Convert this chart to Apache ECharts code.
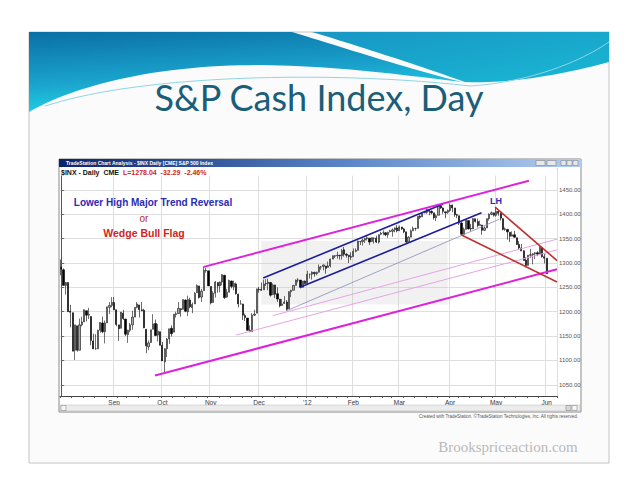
<!DOCTYPE html>
<html>
<head>
<meta charset="utf-8">
<script src="https://cdn.jsdelivr.net/npm/echarts@6/dist/echarts.min.js"></script>
<style>
  html, body { margin: 0; padding: 0; background: #fff; }
  #main { width: 638px; height: 493px; }
</style>
</head>
<body>
<div id="main"></div>
<script>
// S&P 500 cash index ($INX), daily bars, Aug 2011 - Jun 2012
// each row: [day, open, close, low, high]
const aug11 = [[1,1292,1287,1275,1307],[2,1286,1254,1254,1289],[3,1254,1260,1235,1261],[4,1260,1200,1200,1260],[5,1201,1199,1168,1214],
  [8,1198,1119,1119,1198],[9,1121,1173,1101,1173],[10,1171,1121,1118,1171],[11,1121,1173,1121,1186],[12,1173,1179,1170,1190],
  [15,1179,1204,1179,1205],[16,1202,1193,1180,1202],[17,1193,1194,1185,1208],[18,1190,1141,1131,1191],[19,1140,1124,1123,1155],
  [22,1124,1124,1122,1154],[23,1124,1162,1124,1163],[24,1162,1178,1157,1178],[25,1177,1159,1156,1190],[26,1159,1177,1135,1182],
  [29,1177,1210,1177,1210],[30,1209,1213,1195,1220],[31,1213,1219,1209,1230]];
const sep11 = [[1,1219,1204,1204,1230],[2,1204,1174,1170,1204],[6,1173,1165,1140,1173],[7,1166,1199,1166,1198],[8,1197,1186,1183,1204],
  [9,1185,1154,1150,1185],[12,1153,1162,1136,1163],[13,1162,1173,1158,1177],[14,1173,1189,1163,1202],[15,1189,1209,1189,1209],
  [16,1209,1216,1207,1220],[19,1214,1204,1188,1214],[20,1204,1202,1201,1220],[21,1203,1167,1166,1206],[22,1164,1130,1115,1164],
  [23,1128,1136,1121,1141],[26,1137,1163,1136,1163],[27,1164,1175,1164,1195],[28,1176,1151,1150,1184],[29,1152,1160,1139,1175],
  [30,1159,1131,1131,1159]];
const oct11 = [[3,1131,1099,1099,1138],[4,1097,1124,1075,1125],[5,1124,1144,1107,1146],[6,1144,1165,1134,1165],[7,1166,1155,1149,1172],
  [10,1158,1195,1158,1195],[11,1194,1196,1188,1200],[12,1196,1207,1196,1220],[13,1206,1204,1190,1207],[14,1205,1225,1205,1225],
  [17,1224,1201,1199,1225],[18,1200,1225,1191,1233],[19,1224,1210,1207,1229],[20,1208,1215,1197,1219],[21,1216,1238,1216,1240],
  [24,1239,1254,1239,1256],[25,1253,1229,1227,1253],[26,1230,1242,1220,1247],[27,1243,1285,1243,1293],[28,1284,1285,1280,1290],
  [31,1284,1253,1253,1284]];
const nov11 = [[1,1252,1218,1215,1252],[2,1219,1238,1219,1242],[3,1238,1261,1229,1263],[4,1260,1253,1239,1260],[7,1253,1261,1240,1262],
  [8,1261,1276,1254,1277],[9,1275,1229,1226,1275],[10,1230,1240,1229,1247],[11,1240,1264,1240,1266],[14,1263,1252,1248,1264],
  [15,1251,1258,1244,1264],[16,1257,1237,1235,1260],[17,1236,1216,1209,1237],[18,1216,1216,1215,1224],[21,1216,1193,1183,1216],
  [22,1192,1188,1181,1196],[23,1187,1162,1161,1187],[25,1162,1159,1158,1172],[28,1159,1193,1159,1197],[29,1193,1195,1191,1204],
  [30,1197,1247,1197,1247]];
const dec11 = [[1,1246,1245,1239,1251],[2,1246,1244,1243,1260],[5,1245,1257,1245,1266],[6,1257,1258,1253,1267],[7,1258,1261,1244,1268],
  [8,1260,1234,1231,1261],[9,1235,1255,1235,1258],[12,1255,1236,1228,1255],[13,1237,1226,1220,1250],[14,1226,1212,1209,1226],
  [15,1213,1216,1212,1226],[16,1217,1220,1216,1232],[19,1220,1205,1202,1224],[20,1206,1241,1206,1242],[21,1241,1244,1230,1245],
  [22,1244,1254,1244,1255],[23,1254,1265,1254,1266],[27,1265,1265,1260,1269],[28,1265,1250,1248,1265],[29,1250,1263,1250,1263],
  [30,1263,1258,1257,1264]];
const jan12 = [[3,1258,1277,1258,1284],[4,1277,1277,1268,1278],[5,1277,1281,1266,1283],[6,1281,1278,1272,1282],[9,1278,1281,1275,1282],
  [10,1281,1292,1281,1297],[11,1292,1292,1286,1294],[12,1293,1296,1285,1297],[13,1294,1289,1278,1294],[17,1291,1294,1291,1303],
  [18,1294,1308,1291,1309],[19,1308,1315,1308,1315],[20,1314,1315,1310,1316],[23,1315,1316,1309,1323],[24,1316,1315,1307,1316],
  [25,1315,1326,1307,1329],[26,1327,1318,1313,1333],[27,1318,1316,1311,1320],[30,1316,1313,1300,1316],[31,1313,1312,1306,1322]];
const feb12 = [[1,1313,1324,1313,1330],[2,1324,1326,1322,1330],[3,1326,1345,1326,1346],[6,1344,1344,1337,1345],[7,1344,1347,1336,1350],
  [8,1347,1350,1341,1352],[9,1350,1352,1346,1357],[10,1351,1343,1337,1351],[13,1344,1352,1344,1353],[14,1351,1351,1340,1352],
  [15,1351,1343,1341,1356],[16,1343,1358,1340,1359],[17,1359,1361,1357,1364],[21,1362,1362,1357,1367],[22,1362,1358,1355,1363],
  [23,1358,1363,1352,1364],[24,1364,1366,1363,1368],[27,1365,1368,1354,1371],[28,1368,1372,1363,1373],[29,1372,1366,1363,1378]];
const mar12 = [[1,1366,1374,1366,1377],[2,1374,1370,1368,1374],[5,1370,1364,1361,1372],[6,1364,1343,1341,1364],[7,1343,1353,1343,1355],
  [8,1353,1366,1353,1369],[9,1366,1371,1366,1375],[12,1371,1371,1366,1372],[13,1371,1396,1371,1396],[14,1396,1394,1390,1400],
  [15,1395,1403,1394,1403],[16,1403,1404,1402,1406],[19,1404,1410,1401,1411],[20,1409,1406,1398,1409],[21,1406,1403,1400,1408],
  [22,1403,1393,1389,1403],[23,1393,1397,1386,1400],[26,1398,1417,1398,1417],[27,1417,1413,1411,1420],[28,1413,1406,1401,1414],
  [29,1405,1403,1392,1405],[30,1404,1408,1401,1410]];
const apr12 = [[2,1408,1419,1405,1422],[3,1419,1413,1404,1420],[4,1413,1399,1395,1413],[5,1399,1398,1392,1401],[9,1397,1382,1378,1397],
  [10,1382,1359,1358,1384],[11,1359,1369,1359,1373],[12,1369,1388,1369,1388],[13,1387,1370,1369,1387],[16,1371,1370,1365,1380],
  [17,1370,1391,1370,1392],[18,1391,1385,1383,1391],[19,1385,1377,1373,1391],[20,1377,1379,1377,1387],[23,1378,1367,1358,1378],
  [24,1367,1372,1366,1375],[25,1372,1391,1372,1391],[26,1391,1400,1387,1402],[27,1400,1403,1398,1406],[30,1403,1398,1395,1403]];
const may12 = [[1,1398,1406,1395,1415],[2,1406,1402,1397,1406],[3,1402,1392,1387,1404],[4,1391,1369,1367,1392],[7,1369,1370,1366,1373],
  [8,1369,1364,1348,1370],[9,1363,1355,1343,1363],[10,1355,1358,1355,1365],[11,1358,1353,1352,1366],[14,1352,1338,1337,1352],
  [15,1338,1331,1327,1345],[16,1331,1325,1324,1339],[17,1325,1305,1305,1326],[18,1306,1295,1291,1312],[21,1295,1316,1295,1316],
  [22,1316,1317,1310,1329],[23,1317,1319,1297,1320],[24,1319,1321,1308,1322],[25,1321,1318,1314,1324],[29,1318,1332,1318,1335],
  [30,1332,1313,1311,1332],[31,1313,1310,1299,1319]];
const jun12 = [[1,1310,1278,1278,1310]];
const blankDays = [4, 5, 6, 7]; // empty June slots to the right of the last bar

const monthLabels = ['', 'Sep', 'Oct', 'Nov', 'Dec', "'12", 'Feb', 'Mar', 'Apr', 'May', 'Jun'];
const monthRows = [aug11, sep11, oct11, nov11, dec11, jan12, feb12, mar12, apr12, may12, jun12];
const monthKeys = [[2011,8],[2011,9],[2011,10],[2011,11],[2011,12],[2012,1],[2012,2],[2012,3],[2012,4],[2012,5],[2012,6]];

const lastPrice = 1278.04;
const yTicks = [1050, 1100, 1150, 1200, 1250, 1300, 1350, 1400, 1450];

// drawn studies, in [bar index, price]
const magentaTop = [[62, 1292], [203.3, 1469]];
const magentaBottom = [[40.8, 1069], [215.5, 1287]];
const pinkLow1 = [[76, 1152], [215.5, 1327]];
const pinkLow2 = [[92, 1192], [215.5, 1349]];
const slateLine = [[98, 1202], [190.5, 1390]];
const blueTop = [[87.8, 1269], [166, 1421]];
const blueBottom = [[103.8, 1250], [182.7, 1403]];
const redTop = [[188.6, 1414.5], [215.5, 1305]];
const redBottom = [[174, 1357.6], [215.5, 1261]];
const shadeBox = [[87, 1345], [168, 1215]];

// build categories
let cats = [], ohlc = [], monthStart = {}, weekStart = {};
let prevDow = 9;
monthRows.forEach(function (rows, mi) {
  rows.forEach(function (r, k) {
    const idx = cats.length;
    if (k === 0) monthStart[idx] = monthLabels[mi];
    const dow = new Date(monthKeys[mi][0], monthKeys[mi][1] - 1, r[0]).getDay();
    if (dow < prevDow) weekStart[idx] = true;
    prevDow = dow;
    cats.push(monthKeys[mi][0] + '-' + monthKeys[mi][1] + '-' + r[0]);
    ohlc.push([r[1], r[2], r[3], r[4]]);
  });
});
blankDays.forEach(function (d) {
  cats.push('2012-6-' + d);
  ohlc.push('-');
});
const nCats = cats.length;

function study(name, pts, color, width) {
  return {
    name: name, type: 'line', xAxisIndex: 1, yAxisIndex: 0,
    data: pts, symbol: 'none', silent: true, z: 4,
    lineStyle: { color: color, width: width }
  };
}

// sample a cubic bezier into polygon points (slide decoration)
function bez(p0, p1, p2, p3) {
  let out = [];
  for (let i = 0; i <= 24; i++) {
    const t = i / 24, u = 1 - t;
    out.push([
      u*u*u*p0[0] + 3*u*u*t*p1[0] + 3*u*t*t*p2[0] + t*t*t*p3[0],
      u*u*u*p0[1] + 3*u*u*t*p1[1] + 3*u*t*t*p2[1] + t*t*t*p3[1]
    ]);
  }
  return out;
}

const bannerLeft = [[29,32],[292,32]]
  .concat(bez([292,32],[345,48],[405,68],[462,82]))
  .concat(bez([462,82],[380,72],[300,62],[220,66]))
  .concat(bez([220,66],[140,70],[70,88],[29,112]));
const bannerRight = [[312,32],[609,32],[609,62]]
  .concat(bez([609,62],[565,74],[510,84],[465,82]))
  .concat(bez([465,82],[420,66],[365,48],[312,32]));
const bannerStreak = bez([45,106],[150,72],[350,72],[470,86]).concat(bez([470,86],[530,82],[580,62],[609,42]));

let myChart = echarts.init(document.getElementById('main'), null, { renderer: 'svg' });

option = {
  animation: false,
  backgroundColor: '#ffffff',
  title: {
    text: 'S&P Cash Index, Day',
    left: 'center', top: 74,
    textStyle: { fontFamily: 'Lato', fontWeight: 'normal', fontSize: 36, color: '#1b5e79' }
  },
  grid: { left: 60, right: 81, top: 168, bottom: 97, show: false },
  xAxis: [
    {
      type: 'category', data: cats, boundaryGap: true,
      axisLine: { show: true, lineStyle: { color: '#444', width: 1 } },
      axisTick: { show: true, length: 2, interval: function (i) { return !!weekStart[i]; }, lineStyle: { color: '#555' } },
      axisLabel: {
        interval: function (i) { return !!monthStart[i]; },
        formatter: function (v, i) { return monthStart[i] || ''; },
        fontSize: 6.5, color: '#333', margin: 3, fontFamily: 'Liberation Sans'
      },
      splitLine: { show: true, interval: function (i) { return !!monthStart[i]; }, lineStyle: { color: '#dedede', width: 1 } }
    },
    { type: 'value', min: -0.5, max: nCats - 0.5, show: false }
  ],
  yAxis: {
    type: 'value', position: 'right', min: 1027, max: 1495, splitNumber: 9,
    axisLine: { show: true, lineStyle: { color: '#555' } },
    axisTick: { show: true, length: 3, lineStyle: { color: '#666' } },
    axisLabel: {
      showMinLabel: false, showMaxLabel: false, fontSize: 6, color: '#555', margin: 2,
      fontFamily: 'Liberation Sans',
      formatter: function (v) { return yTicks.indexOf(v) >= 0 ? v.toFixed(2) : ''; }
    },
    splitLine: { show: true, lineStyle: { color: '#dedede', width: 1 } }
  },
  series: [
    {
      name: 'shade', type: 'line', xAxisIndex: 1, data: [], silent: true, z: 1,
      markArea: {
        silent: true,
        itemStyle: { color: 'rgba(200,200,200,0.25)' },
        data: [[{ coord: shadeBox[0] }, { coord: shadeBox[1] }]]
      }
    },
    {
      name: '$INX', type: 'candlestick', data: ohlc, barWidth: 1.7, z: 3,
      itemStyle: { color: '#a8a8a8', color0: '#000000', borderColor: '#111111', borderColor0: '#000000', borderWidth: 0.6 },
      markLine: {
        silent: true, symbol: 'none',
        lineStyle: { opacity: 0 },
        label: {
          position: 'end', formatter: lastPrice.toFixed(2), color: '#fff', backgroundColor: '#000',
          fontSize: 6, padding: [1, 3], distance: 1, fontFamily: 'Liberation Sans'
        },
        data: [{ yAxis: lastPrice }]
      }
    },
    study('pink1', pinkLow1, '#e6a3e6', 1),
    study('pink2', pinkLow2, '#e6a3e6', 1),
    study('slate', slateLine, '#8c8cb4', 0.8),
    study('blueTop', blueTop, '#1c1c9c', 1.6),
    study('blueBottom', blueBottom, '#1c1c9c', 1.6),
    study('magTop', magentaTop, '#dd22dd', 2),
    study('magBottom', magentaBottom, '#dd22dd', 2),
    study('redTop', redTop, '#c0302c', 1.6),
    study('redBottom', redBottom, '#c0302c', 1.6)
  ],
  graphic: [
    // slide frame and banner
    { type: 'rect', shape: { x: 29, y: 32, width: 580, height: 431 }, style: { fill: '#fbfbfb', stroke: '#c4c4c4', lineWidth: 1 }, z: -10 },
    {
      type: 'polygon', z: -9, shape: { points: bannerLeft },
      style: { fill: { type: 'linear', x: 0, y: 0, x2: 0.3, y2: 1, colorStops: [{ offset: 0, color: '#0a6fa6' }, { offset: 0.6, color: '#1aa3cc' }, { offset: 1, color: '#22d6e6' }] } }
    },
    {
      type: 'polygon', z: -9, shape: { points: bannerRight },
      style: { fill: { type: 'linear', x: 0, y: 0, x2: 1, y2: 1, colorStops: [{ offset: 0, color: '#1796c4' }, { offset: 1, color: '#1ab8d4' }] } }
    },
    { type: 'polyline', z: -8, shape: { points: bannerStreak }, style: { fill: null, stroke: '#8fd6e6', lineWidth: 1 } },
    // chart window
    { type: 'rect', shape: { x: 59, y: 159, width: 522, height: 253 }, style: { fill: '#ffffff', stroke: '#8a8a8a', lineWidth: 1 }, z: -5 },
    {
      type: 'rect', shape: { x: 59, y: 159, width: 522, height: 8 }, z: 50,
      style: { fill: { type: 'linear', x: 0, y: 0, x2: 1, y2: 0, colorStops: [{ offset: 0, color: '#0a246a' }, { offset: 0.55, color: '#5a86c8' }, { offset: 1, color: '#b4cdef' }] } }
    },
    { type: 'text', x: 66, y: 163, z: 51, style: { text: 'TradeStation Chart Analysis - $INX Daily [CME] S&P 500 Index', fill: '#ffffff', font: 'bold 5px Liberation Sans', verticalAlign: 'middle' } },
    { type: 'rect', shape: { x: 536, y: 160.5, width: 9, height: 5 }, style: { fill: '#e8e8e8', stroke: '#777', lineWidth: 0.5 }, z: 52 },
    { type: 'rect', shape: { x: 547, y: 160.5, width: 9, height: 5 }, style: { fill: '#e8e8e8', stroke: '#777', lineWidth: 0.5 }, z: 52 },
    { type: 'rect', shape: { x: 561, y: 160.5, width: 5, height: 5 }, style: { fill: '#e8e8e8', stroke: '#777', lineWidth: 0.5 }, z: 52 },
    { type: 'rect', shape: { x: 567, y: 160.5, width: 5, height: 5 }, style: { fill: '#e8e8e8', stroke: '#777', lineWidth: 0.5 }, z: 52 },
    { type: 'rect', shape: { x: 573, y: 160.5, width: 5, height: 5 }, style: { fill: '#e8e8e8', stroke: '#777', lineWidth: 0.5 }, z: 52 },
    { type: 'rect', shape: { x: 60, y: 167.5, width: 496, height: 8 }, style: { fill: '#ffffff' }, z: 40 },
    { type: 'text', x: 61, y: 172, z: 51, style: { text: '$INX - Daily  CME', fill: '#111', font: 'bold 7px Liberation Sans', verticalAlign: 'middle' } },
    { type: 'text', x: 123, y: 172, z: 51, style: { text: 'L=1278.04  -32.29  -2.46%', fill: '#d41c1c', font: 'bold 7px Liberation Sans', verticalAlign: 'middle' } },
    // scroll bar
    { type: 'rect', shape: { x: 60, y: 405, width: 520, height: 6 }, style: { fill: '#ececec', stroke: '#bbb', lineWidth: 0.5 }, z: 45 },
    { type: 'rect', shape: { x: 61, y: 405.5, width: 5, height: 5 }, style: { fill: '#f6f6f6', stroke: '#777', lineWidth: 0.5 }, z: 46 },
    { type: 'rect', shape: { x: 572, y: 405.5, width: 5, height: 5 }, style: { fill: '#f6f6f6', stroke: '#777', lineWidth: 0.5 }, z: 46 },
    { type: 'rect', shape: { x: 566, y: 405.5, width: 5, height: 5 }, style: { fill: '#d8d8d8', stroke: '#777', lineWidth: 0.5 }, z: 46 },
    { type: 'text', x: 578, y: 416, z: 51, style: { text: 'Created with TradeStation. \u00a9TradeStation Technologies, Inc. All rights reserved.', fill: '#555', font: '4.5px Liberation Sans', align: 'right', verticalAlign: 'middle' } },
    // annotations
    { type: 'text', x: 153, y: 202, z: 60, style: { text: 'Lower High Major Trend Reversal', fill: '#2a2ab4', font: 'bold 10px Liberation Sans', align: 'center', verticalAlign: 'middle' } },
    { type: 'text', x: 144, y: 218, z: 60, style: { text: 'or', fill: '#c02828', font: '10px Liberation Sans', align: 'center', verticalAlign: 'middle' } },
    { type: 'text', x: 144, y: 233, z: 60, style: { text: 'Wedge Bull Flag', fill: '#d02424', font: 'bold 10.5px Liberation Sans', align: 'center', verticalAlign: 'middle' } },
    { type: 'text', x: 496, y: 201, z: 60, style: { text: 'LH', fill: '#2a2ab4', font: 'bold 9px Liberation Sans', align: 'center', verticalAlign: 'middle' } },
    // footer
    { type: 'text', x: 508, y: 447, z: 60, style: { text: 'Brookspriceaction.com', fill: '#b9b9b9', font: '15px Liberation Serif', align: 'center', verticalAlign: 'middle' } }
  ]
};

myChart.setOption(option);
</script>
</body>
</html>
